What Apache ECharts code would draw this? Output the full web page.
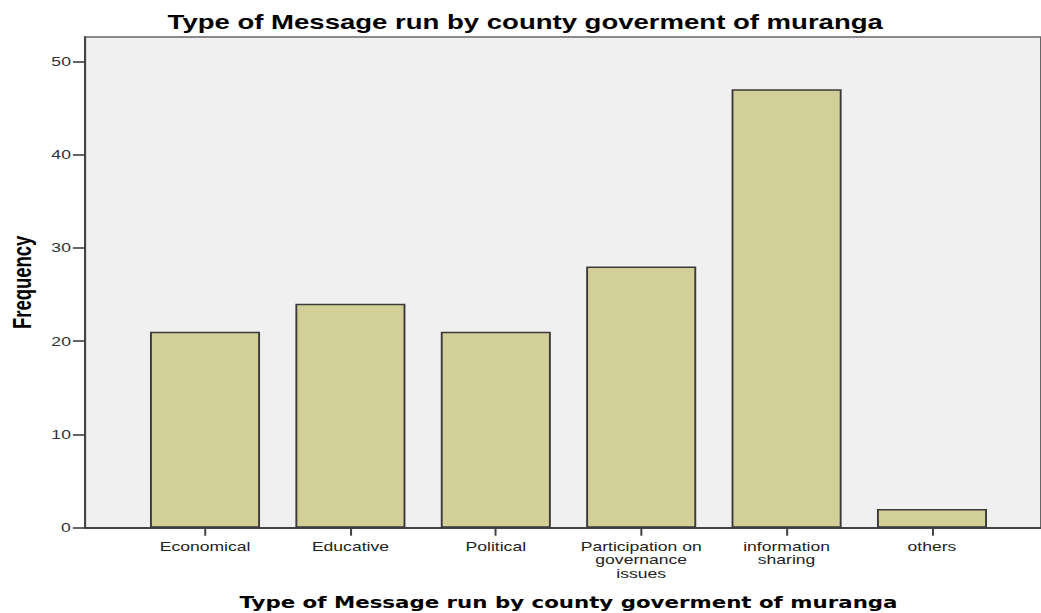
<!DOCTYPE html>
<html>
<head>
<meta charset="utf-8">
<script src="https://cdn.jsdelivr.net/npm/echarts@6/dist/echarts.min.js"></script>
<style>
html,body{margin:0;padding:0;background:#fff;overflow:hidden;}
#wrap{width:1041px;height:613px;overflow:hidden;}
#c{width:771px;height:613px;transform:scaleX(1.3502);transform-origin:0 0;}
</style>
</head>
<body>
<div id="wrap"><div id="c"></div></div>
<script>
const categories = ['Economical', 'Educative', 'Political', 'Participation on\ngovernance\nissues', 'information\nsharing', 'others'];
const frequency = [21, 24, 21, 28, 47, 2];
const yTicks = [0, 10, 20, 30, 40, 50];
const titleText = 'Type of Message run by county goverment of muranga';

const chart = echarts.init(document.getElementById('c'), null, {renderer: 'svg'});
const yMax = 52.6;
chart.setOption({
  animation: false,
  backgroundColor: '#ffffff',
  title: {
    text: titleText,
    left: 384, textAlign: 'center', top: 7,
    textStyle: {fontFamily: 'Liberation Sans, Arial, sans-serif', fontWeight: 'bold', fontSize: 20.4, color: '#000'}
  },
  grid: [
    {left: 63, right: 0, top: 37, bottom: 85.3, show: true, backgroundColor: '#f0f0f0', borderColor: '#666', borderWidth: 1.5, outerBoundsMode: 'none', containLabel: false},
    {left: 98, right: 26.9, top: 37, bottom: 85.3, outerBoundsMode: 'none', containLabel: false}
  ],
  xAxis: [
    {gridIndex: 0, type: 'value', min: 0, max: 1,
      axisLine: {show: true, lineStyle: {color: '#444', width: 2}},
      axisTick: {show: false}, axisLabel: {show: false}, splitLine: {show: false}},
    {
      gridIndex: 1, type: 'category', data: categories,
      axisLine: {show: false},
      axisTick: {show: true, alignWithLabel: true, length: 8, lineStyle: {color: '#444', width: 1.5}},
      axisLabel: {interval: 0, margin: 12, fontFamily: 'Liberation Sans, Arial, sans-serif', fontSize: 13, lineHeight: 13.3, color: '#222'},
      name: titleText, nameLocation: 'middle', nameGap: 67,
      nameTextStyle: {fontFamily: 'DejaVu Sans, Verdana, sans-serif', fontWeight: 'bold', fontSize: 15.8, color: '#000'}
    }
  ],
  yAxis: [
    {
      gridIndex: 0, type: 'value', min: 0, max: yMax, interval: 10,
      axisLine: {show: true, lineStyle: {color: '#444', width: 1.5}},
      axisTick: {show: true, length: 9, customValues: yTicks, lineStyle: {color: '#333', width: 1.5}},
      axisLabel: {margin: 10.5, customValues: yTicks, fontFamily: 'Liberation Sans, Arial, sans-serif', fontSize: 13, color: '#333'},
      splitLine: {show: false},
      name: 'Frequency', nameLocation: 'middle', nameGap: 37, nameRotate: 90,
      nameTextStyle: {fontFamily: 'Liberation Sans, Arial, sans-serif', fontWeight: 'bold', fontSize: 18.5, color: '#000'}
    },
    {gridIndex: 1, type: 'value', min: 0, max: yMax, show: false}
  ],
  series: [{
    type: 'bar', xAxisIndex: 1, yAxisIndex: 1,
    data: frequency, barWidth: 81.5,
    itemStyle: {color: '#d3cf98', borderColor: '#3a3a3a', borderWidth: 1.4}
  }, {
    type: 'bar', xAxisIndex: 0, yAxisIndex: 0, data: [], silent: true
  }]
});
</script>
</body>
</html>
